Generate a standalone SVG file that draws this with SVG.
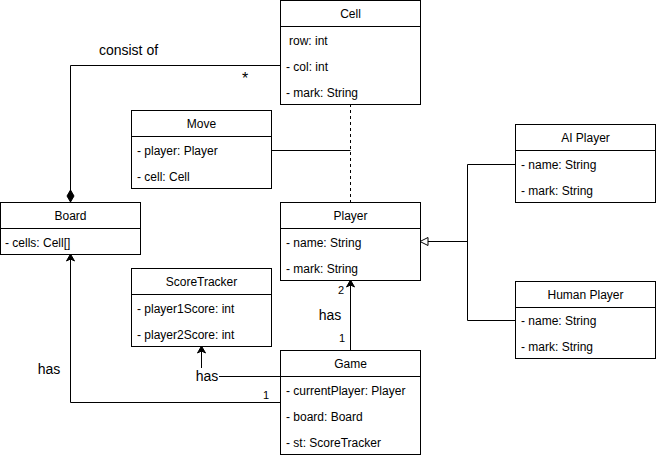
<svg xmlns="http://www.w3.org/2000/svg" width="656" height="458" viewBox="0 0 656 458">
<style>
.box{fill:#fff;stroke:#000;stroke-width:1}
.t{font-family:"Liberation Sans",Arial,sans-serif;font-size:12px;fill:#000}
.c{text-anchor:middle}
.lbl{font-family:"Liberation Sans",Arial,sans-serif;font-size:14px;fill:#000}
.sm{font-family:"Liberation Sans",Arial,sans-serif;font-size:11px;fill:#000}
.ln{fill:none;stroke:#000;stroke-width:1}
</style>
<defs>
<marker id="arr" markerWidth="10" markerHeight="10" refX="8" refY="5" orient="auto" markerUnits="userSpaceOnUse">
<path d="M1,1 L8,5 L1,9 L3,5 Z" fill="#000" stroke="#000" stroke-width="1"/>
</marker>
<marker id="tri" markerWidth="12" markerHeight="12" refX="9" refY="6" orient="auto" markerUnits="userSpaceOnUse">
<path d="M1,2 L9,6 L1,10 Z" fill="#fff" stroke="#000" stroke-width="1"/>
</marker>
<marker id="dia" markerWidth="14" markerHeight="10" refX="13" refY="5" orient="auto" markerUnits="userSpaceOnUse">
<path d="M1,5 L7,1.5 L13,5 L7,8.5 Z" fill="#000" stroke="#000" stroke-width="1"/>
</marker>
</defs>

<g id="connectors">
<path class="ln" d="M280,65.5 H70.5 V202" marker-end="url(#dia)"/>
<path class="ln" d="M350.5,104 V202" stroke-dasharray="3,3"/>
<path class="ln" d="M271,150.5 H350.5"/>
<path class="ln" d="M515,164.5 H467.5 V320.5 H515"/>
<path class="ln" d="M467.5,241.5 H420" marker-end="url(#tri)"/>
<path class="ln" d="M350.5,350 V280" marker-end="url(#arr)"/>
<path class="ln" d="M280,376.5 H201.5 V346" marker-end="url(#arr)"/>
<path class="ln" d="M280,402.5 H70.5 V254" marker-end="url(#arr)"/>
<rect x="195" y="368" width="24" height="16" fill="#fff"/>
<text class="lbl c" x="207" y="381">has</text>
<text class="lbl c" x="128.5" y="55">consist of</text>
<text class="lbl c" x="245" y="84" style="font-size:16px">*</text>
<text class="lbl c" x="330" y="320">has</text>
<text class="lbl c" x="49" y="374">has</text>
<text class="sm c" x="341" y="294">2</text>
<text class="sm c" x="342" y="342">1</text>
<text class="sm c" x="266" y="399">1</text>
</g>

<g id="Cell">
<rect class="box" x="280.5" y="0.5" width="140" height="104"/>
<line class="ln" x1="280.5" y1="26.5" x2="420.5" y2="26.5"/>
<text class="t c" x="350.5" y="17.5">Cell</text>
<text class="t" x="289" y="44.5">row: int</text>
<text class="t" x="286" y="70.5">- col: int</text>
<text class="t" x="286" y="96.5">- mark: String</text>
</g>

<g id="Move">
<rect class="box" x="131.5" y="110.5" width="140" height="78"/>
<line class="ln" x1="131.5" y1="136.5" x2="271.5" y2="136.5"/>
<text class="t c" x="201.5" y="127.5">Move</text>
<text class="t" x="137" y="154.5">- player: Player</text>
<text class="t" x="137" y="180.5">- cell: Cell</text>
</g>

<g id="Board">
<rect class="box" x="0.5" y="202.5" width="140" height="52"/>
<line class="ln" x1="0.5" y1="228.5" x2="140.5" y2="228.5"/>
<text class="t c" x="70.5" y="219.5">Board</text>
<text class="t" x="5" y="246.5">- cells: Cell[]</text>
</g>

<g id="Player">
<rect class="box" x="280.5" y="202.5" width="140" height="78"/>
<line class="ln" x1="280.5" y1="228.5" x2="420.5" y2="228.5"/>
<text class="t c" x="350.5" y="219.5">Player</text>
<text class="t" x="286" y="246.5">- name: String</text>
<text class="t" x="286" y="272.5">- mark: String</text>
</g>

<g id="ScoreTracker">
<rect class="box" x="131.5" y="268.5" width="140" height="78"/>
<line class="ln" x1="131.5" y1="294.5" x2="271.5" y2="294.5"/>
<text class="t c" x="201.5" y="285.5">ScoreTracker</text>
<text class="t" x="137" y="312.5">- player1Score: int</text>
<text class="t" x="137" y="338.5">- player2Score: int</text>
</g>

<g id="Game">
<rect class="box" x="280.5" y="350.5" width="140" height="104"/>
<line class="ln" x1="280.5" y1="376.5" x2="420.5" y2="376.5"/>
<text class="t c" x="350.5" y="367.5">Game</text>
<text class="t" x="286" y="394.5">- currentPlayer: Player</text>
<text class="t" x="286" y="420.5">- board: Board</text>
<text class="t" x="286" y="446.5">- st: ScoreTracker</text>
</g>

<g id="AIPlayer">
<rect class="box" x="515.5" y="124.5" width="140" height="78"/>
<line class="ln" x1="515.5" y1="150.5" x2="655.5" y2="150.5"/>
<text class="t c" x="585.5" y="141.5">AI Player</text>
<text class="t" x="521" y="168.5">- name: String</text>
<text class="t" x="521" y="194.5">- mark: String</text>
</g>

<g id="HumanPlayer">
<rect class="box" x="515.5" y="281.5" width="140" height="77"/>
<line class="ln" x1="515.5" y1="307.5" x2="655.5" y2="307.5"/>
<text class="t c" x="585.5" y="298.5">Human Player</text>
<text class="t" x="521" y="324.5">- name: String</text>
<text class="t" x="521" y="350.5">- mark: String</text>
</g>
</svg>
